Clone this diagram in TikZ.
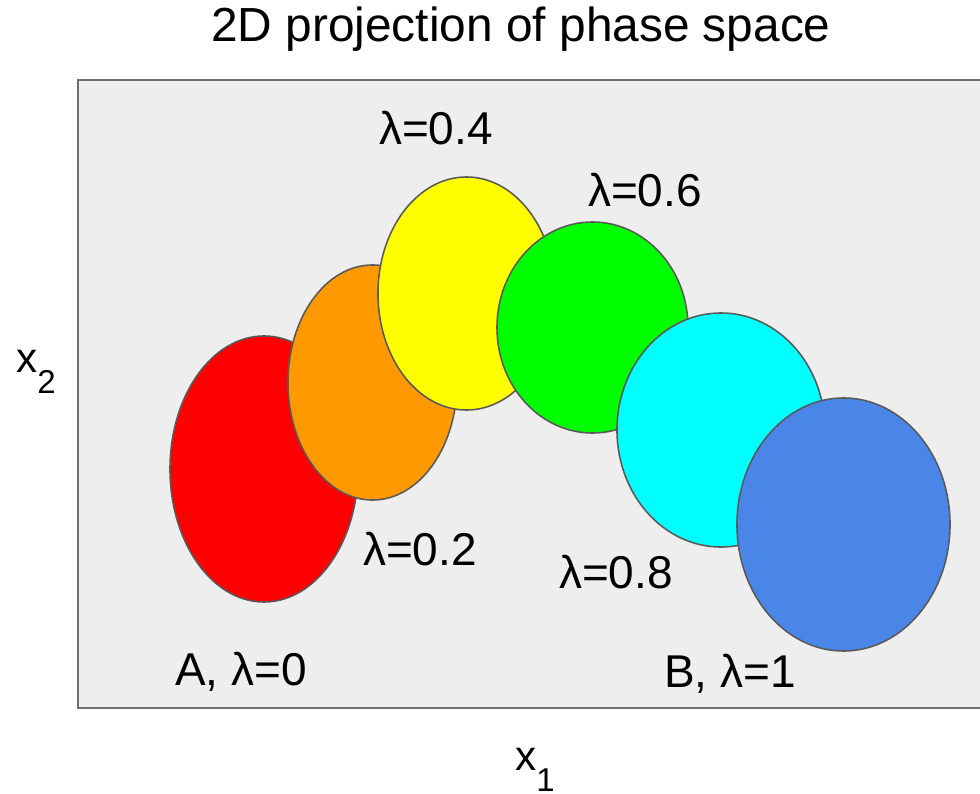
\documentclass[tikz,border=0pt]{standalone}
\usepackage{fontspec}
\setmainfont{Liberation Sans}
\usetikzlibrary{shapes.geometric}

\definecolor{panelfill}{HTML}{EEEEEE}
\definecolor{paneledge}{HTML}{6E6E6E}
\definecolor{blobedge}{HTML}{595959}
\definecolor{lamred}{HTML}{FF0000}
\definecolor{lamorange}{HTML}{FF9900}
\definecolor{lamyellow}{HTML}{FFFF00}
\definecolor{lamgreen}{HTML}{00FF00}
\definecolor{lamcyan}{HTML}{00FFFF}
\definecolor{lamblue}{HTML}{4A86E8}

% lowered index for the axis names
\newcommand{\lowsub}[1]{\raisebox{-0.52em}{\fontsize{23.5}{27}\selectfont #1}}

\begin{document}
\begin{tikzpicture}[
  x=0.025cm, y=-0.025cm,
  blob/.style={ellipse, draw=blobedge, line width=1.1pt, inner sep=0pt},
  lbl/.style={anchor=base, inner sep=0pt, font=\fontsize{32.7}{39}\selectfont},
  axlbl/.style={anchor=base, inner sep=0pt, font=\fontsize{30}{36}\selectfont},
  ttl/.style={anchor=base, inner sep=0pt, font=\fontsize{34}{41}\selectfont}
]
  \useasboundingbox[fill=white] (0,0) rectangle (980,794);

  \draw[fill=panelfill, draw=paneledge, line width=1.5pt] (78,80) rectangle (995,708);

  \node[ttl] (title) at (521,42) {2D projection of phase space};

  \node[blob, fill=lamred,    minimum width=4.700cm, minimum height=6.650cm] (e0)  at (264,469)     {};
  \node[blob, fill=lamorange, minimum width=4.225cm, minimum height=5.875cm] (e2)  at (372.5,382.5) {};
  \node[blob, fill=lamyellow, minimum width=4.425cm, minimum height=5.825cm] (e4)  at (466.5,293.5) {};
  \node[blob, fill=lamgreen,  minimum width=4.775cm, minimum height=5.275cm] (e6)  at (592.5,327.5) {};
  \node[blob, fill=lamcyan,   minimum width=5.200cm, minimum height=5.850cm] (e8)  at (721,430)     {};
  \node[blob, fill=lamblue,   minimum width=5.325cm, minimum height=6.325cm] (e10) at (843.5,524.5) {};

  \node[lbl] (l4)  at (436,145) {λ=0.4};
  \node[lbl] (l6)  at (645,207) {λ=0.6};
  \node[lbl] (l2)  at (420,565) {λ=0.2};
  \node[lbl] (l8)  at (616,588) {λ=0.8};
  \node[lbl] (lA)  at (241,685) {A, λ=0};
  \node[lbl] (lB)  at (730,687) {B, λ=1};

  \node[axlbl] (ax2) at (36,372)  {x\lowsub{2}};
  \node[axlbl] (ax1) at (535,770) {x\lowsub{1}};

\end{tikzpicture}
\end{document}
